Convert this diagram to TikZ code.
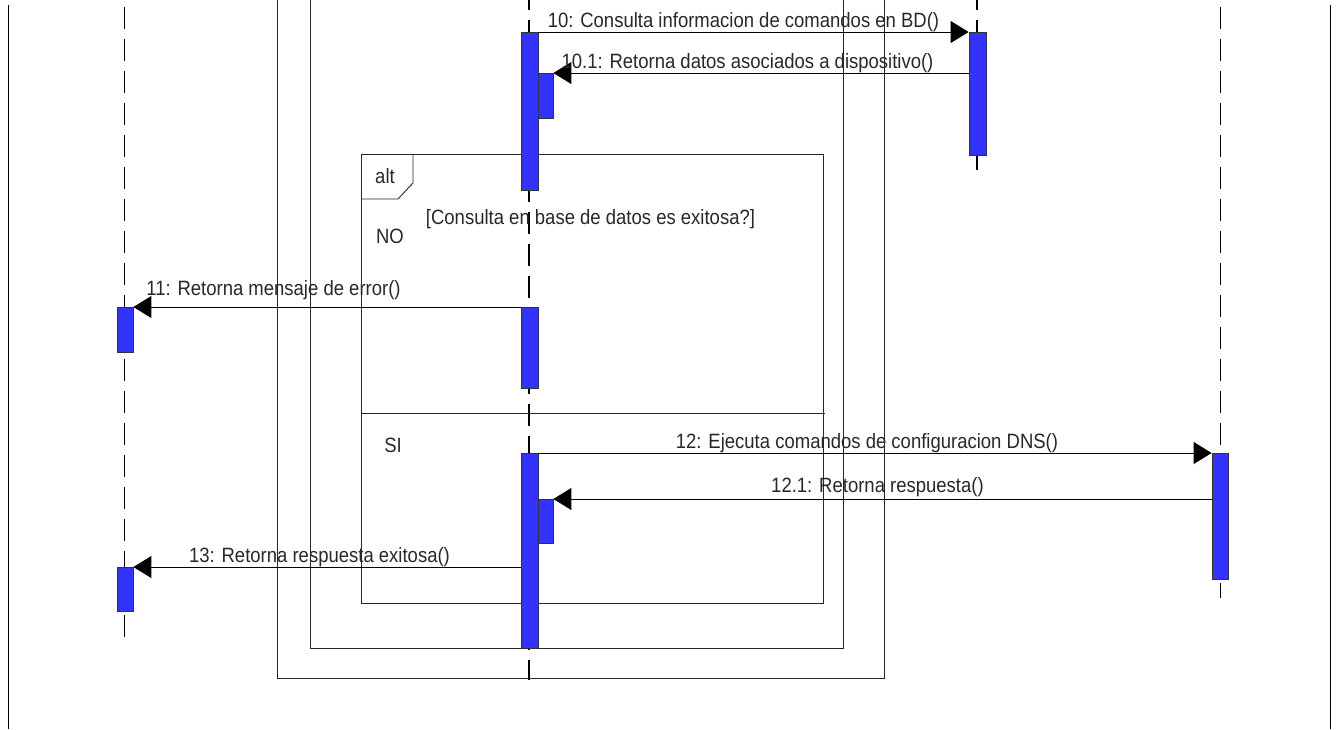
\documentclass[tikz,border=0pt]{standalone}
\usepackage{fontspec}
\setmainfont{Liberation Sans}
\usetikzlibrary{arrows.meta}
\definecolor{barblue}{RGB}{51,51,255}
\definecolor{txtgray}{RGB}{40,40,40}
\begin{document}
\begin{tikzpicture}[x=1pt,y=-1pt,
  lifeline/.style={line width=1.1pt, dash pattern=on 22pt off 10pt},
  actbar/.style={draw=black!80, line width=0.8pt, fill=barblue, inner sep=0pt, anchor=north},
  msg/.style={line width=1pt, -{Triangle[length=18pt,width=22pt]}},
  framebox/.style={line width=0.9pt, draw=black!85},
  lbl/.style={font=\fontsize{18.5}{20}\selectfont, text=txtgray, inner sep=0pt, anchor=base, yscale=1.12}
]
\useasboundingbox (0,0) rectangle (1336,729);
% page borders
\draw[line width=1pt] (8.5,5) -- (8.5,729);
\draw[line width=1pt] (1330,5) -- (1330,729);
% lifelines
\coordinate (l1t) at (124.5,7); \coordinate (l1b) at (124.5,640);
\coordinate (l2t) at (529,-12); \coordinate (l2b) at (529,680);
\coordinate (l3t) at (977,-12); \coordinate (l3b) at (977,175);
\coordinate (l4t) at (1220.5,7); \coordinate (l4b) at (1220.5,598);
\draw[lifeline] (l1t) -- (l1b);
\draw[lifeline] (l2t) -- (l2b);
\draw[lifeline] (l3t) -- (l3b);
\draw[lifeline] (l4t) -- (l4b);
% enclosing frames
\draw[framebox] (277,-2) -- (277,678) -- (884,678) -- (884,-2);
\draw[framebox] (310,-2) -- (310,648) -- (843,648) -- (843,-2);
% alt frame
\draw[framebox] (361,154) rectangle (823,603);
\draw[framebox] (361,199) -- (398,199) -- (413,183) -- (413,154);
\draw[framebox] (361,413) -- (825,413);
% activation bars
\node[actbar, minimum width=17pt, minimum height=158pt] (b1) at (529.5,32) {};
\node[actbar, minimum width=15pt, minimum height=45pt] (n1) at (545.5,73) {};
\node[actbar, minimum width=17pt, minimum height=123pt] (c1) at (977.5,32) {};
\node[actbar, minimum width=16pt, minimum height=45pt] (e1) at (125,307) {};
\node[actbar, minimum width=17pt, minimum height=81pt] (b2) at (529.5,307) {};
\node[actbar, minimum width=17pt, minimum height=195pt] (b3) at (529.5,453) {};
\node[actbar, minimum width=15pt, minimum height=44pt] (n2) at (545.5,499) {};
\node[actbar, minimum width=16pt, minimum height=126pt] (d1) at (1220,453) {};
\node[actbar, minimum width=16pt, minimum height=44pt] (e2) at (125,567) {};
% messages
\draw[msg] (b1.north east) -- (c1.north west);
\draw[msg] (c1.west |- n1.north east) -- (n1.north east);
\draw[msg] (b2.north west) -- (e1.north east);
\draw[msg] (b3.north east) -- (d1.north west);
\draw[msg] (d1.west |- n2.north east) -- (n2.north east);
\draw[msg] (b3.west |- e2.north east) -- (e2.north east);
% labels
\node[lbl] (t10) at (743.5,27) {10: Consulta informacion de comandos en BD()};
\node[lbl] (t101) at (747.5,68) {10.1: Retorna datos asociados a dispositivo()};
\node[lbl] (talt) at (385,183) {alt};
\node[lbl] (tguard) at (590.5,224) {[Consulta en base de datos es exitosa?]};
\node[lbl] (tno) at (390,243) {NO};
\node[lbl] (t11) at (273.5,295) {11: Retorna mensaje de error()};
\node[lbl] (tsi) at (393,452) {SI};
\node[lbl] (t12) at (867,448) {12: Ejecuta comandos de configuracion DNS()};
\node[lbl] (t121) at (877.5,492) {12.1: Retorna respuesta()};
\node[lbl] (t13) at (319.5,562) {13: Retorna respuesta exitosa()};
\end{tikzpicture}
\end{document}
